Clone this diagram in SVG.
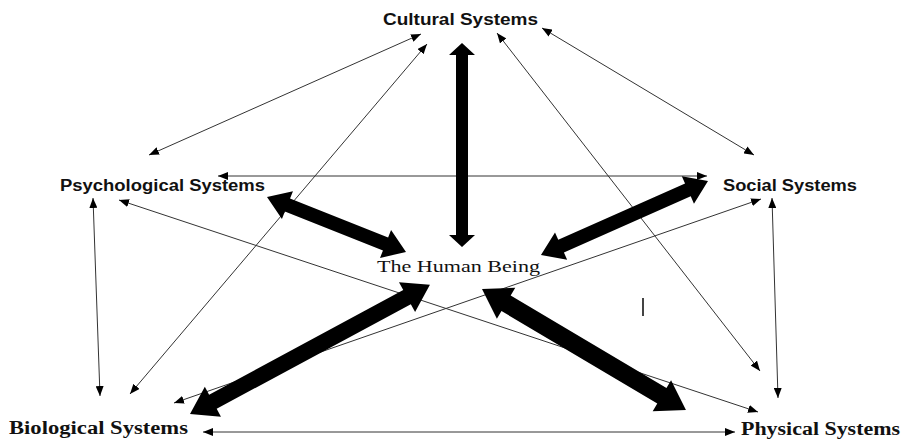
<svg xmlns="http://www.w3.org/2000/svg" width="902" height="442" viewBox="0 0 902 442">
<style>
.sans{font-family:"Liberation Sans","Open Sans",Arial,sans-serif;font-weight:bold;font-size:16px;fill:#111}
.serifb{font-family:"Liberation Serif","Times New Roman",serif;font-weight:bold;font-size:18px;fill:#111}
.serif{font-family:"Liberation Serif","Times New Roman",serif;font-size:16px;fill:#111}
.thin{stroke:#333;stroke-width:1;fill:none;marker-start:url(#ah);marker-end:url(#ah)}
.thick{fill:#000}
</style>
<defs>
<marker id="ah" viewBox="0 0 10 8" refX="10" refY="4" markerWidth="10" markerHeight="8" orient="auto-start-reverse" markerUnits="userSpaceOnUse"><path d="M0,0 L10,4 L0,8 z" fill="#000"/></marker>
</defs>
<rect width="902" height="442" fill="#fff"/>
<g id="connectors">
<line class="thin" x1="421" y1="34" x2="149" y2="155"/>
<line class="thin" x1="427" y1="44" x2="130" y2="394"/>
<line class="thin" x1="497" y1="33" x2="760" y2="371"/>
<line class="thin" x1="542" y1="28" x2="754" y2="155"/>
<line class="thin" x1="218" y1="176" x2="707" y2="176"/>
<line class="thin" x1="119" y1="200" x2="758" y2="412"/>
<line class="thin" x1="761" y1="199" x2="174" y2="403"/>
<line class="thin" x1="93" y1="198" x2="100" y2="396"/>
<line class="thin" x1="772" y1="198" x2="778" y2="398"/>
<line class="thin" x1="203" y1="432" x2="735" y2="432"/>
<g transform="translate(462,43) rotate(90)"><polygon class="thick" points="0,0 12,-13 12,-6 192,-6 192,-13 204,0 192,13 192,6 12,6 12,13"/></g>
<g transform="translate(267,197) rotate(21.6)"><polygon class="thick" points="0,0 22,-15 22,-7 127.5,-7 127.5,-15 149.5,0 127.5,15 127.5,7 22,7 22,15"/></g>
<g transform="translate(708,181) rotate(156.1)"><polygon class="thick" points="0,0 22,-15 22,-7 160.7,-7 160.7,-15 182.7,0 160.7,15 160.7,7 22,7 22,15"/></g>
<g transform="translate(190,414) rotate(-28.3)"><polygon class="thick" points="0,0 26,-17 26,-8 246.5,-8 246.5,-17 272.5,0 246.5,17 246.5,8 26,8 26,17"/></g>
<g transform="translate(482,289) rotate(30.7)"><polygon class="thick" points="0,0 28,-18 28,-9 209.2,-9 209.2,-18 237.2,0 209.2,18 209.2,9 28,9 28,18"/></g>
<line x1="643" y1="298" x2="643" y2="316" stroke="#444" stroke-width="2"/>
</g>
<g id="cultural"><text class="sans" x="383" y="25" textLength="155" lengthAdjust="spacingAndGlyphs">Cultural Systems</text></g>
<g id="psychological"><text class="sans" x="60" y="191" textLength="205" lengthAdjust="spacingAndGlyphs">Psychological Systems</text></g>
<g id="social"><text class="sans" x="723" y="191" textLength="134" lengthAdjust="spacingAndGlyphs">Social Systems</text></g>
<g id="human"><text class="serif" x="377" y="272" textLength="163" lengthAdjust="spacingAndGlyphs">The Human Being</text></g>
<g id="biological"><text class="serifb" x="9" y="434" textLength="179" lengthAdjust="spacingAndGlyphs">Biological Systems</text></g>
<g id="physical"><text class="serifb" x="741" y="435" textLength="159" lengthAdjust="spacingAndGlyphs">Physical Systems</text></g>
</svg>
